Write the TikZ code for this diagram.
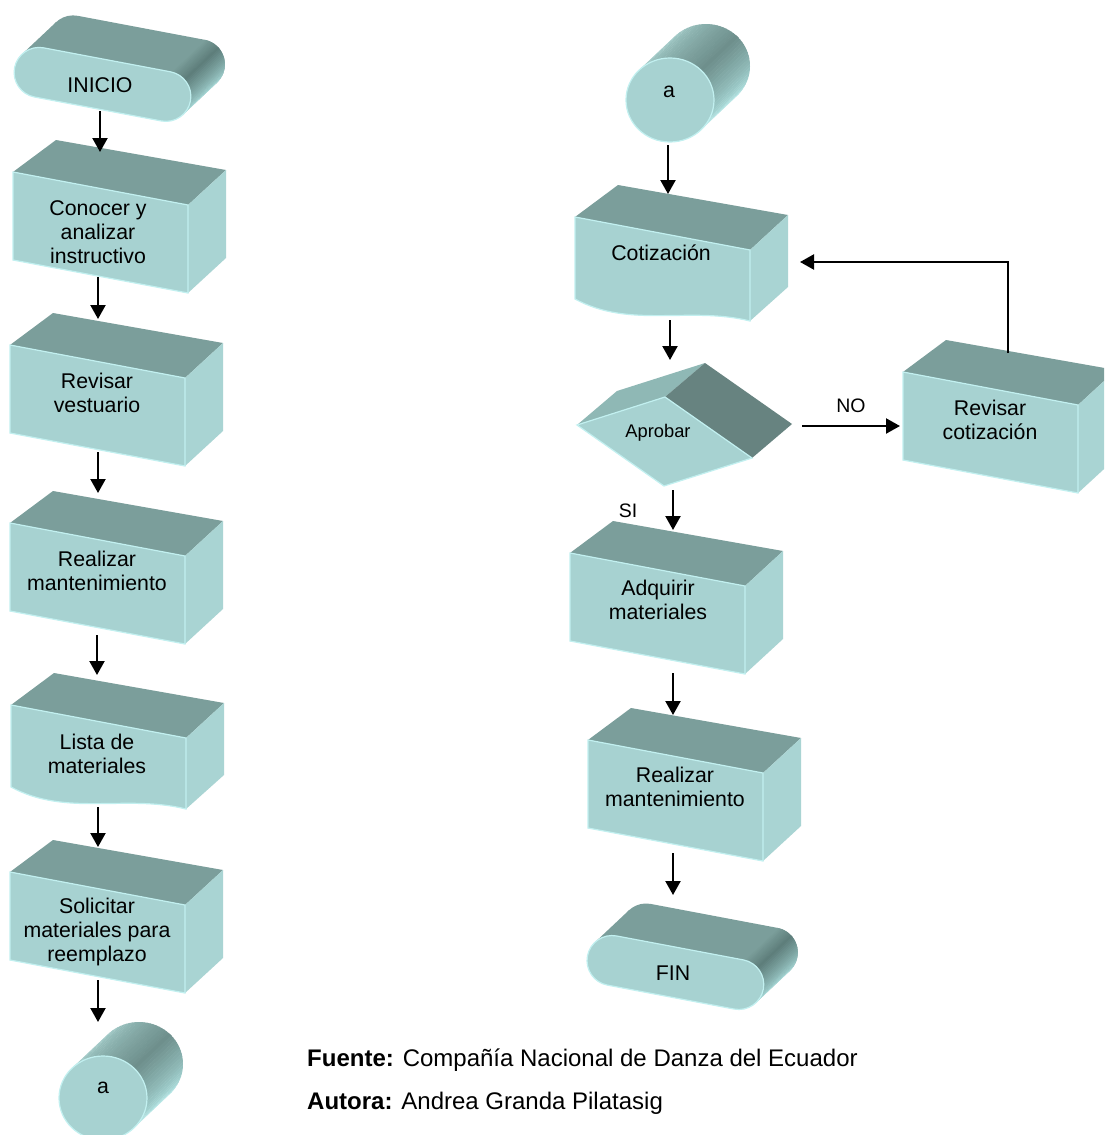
\documentclass[tikz,border=0pt]{standalone}
\usepackage{fontspec}
\setmainfont{Liberation Sans}
\usetikzlibrary{arrows.meta}

\definecolor{faceC}{HTML}{A7D2D1}
\definecolor{topC}{HTML}{7B9E9B}
\definecolor{sideC}{HTML}{A9D4D3}
\definecolor{edgeC}{HTML}{C2F0F0}
\definecolor{darkC}{HTML}{678380}
\definecolor{midC}{HTML}{8FB8B5}
\definecolor{capD}{HTML}{5E7E7B}
\definecolor{capL}{HTML}{B2E6E5}
\definecolor{cylL}{HTML}{A3CDCA}
\definecolor{cylD}{HTML}{6E8F8C}
\definecolor{cylE}{HTML}{B8EDEC}

\tikzset{
  arr/.style={line width=2.2pt, -{Triangle[length=14pt,width=15pt]}},
  lbl/.style={font=\fontsize{21.3}{24.3}\selectfont, align=center, inner sep=0pt},
  smalllbl/.style={font=\fontsize{18.3}{21}\selectfont, inner sep=0pt},
  ynlbl/.style={font=\fontsize{19.5}{22}\selectfont, inner sep=0pt},
  notelbl/.style={anchor=base west, inner sep=0pt, font=\fontsize{24}{27}\selectfont},
  frontface/.style={fill=faceC, draw=edgeC, line width=1.2pt},
  % process box: origin at the front top-left corner
  procbox/.pic={
    \fill[topC] (0,0) -- (43,-32) -- (213,-2) -- (175,33) -- cycle;
    \fill[sideC] (175,33) -- (213,-2) -- (213,86) -- (175,121) -- cycle;
    \path[frontface] (0,0) -- (175,33) -- (175,121) -- (0,88) -- cycle;
  },
  % document box with a wavy lower edge
  docbox/.pic={
    \fill[topC] (0,0) -- (43,-32) -- (213,-2) -- (175,33) -- cycle;
    \fill[sideC] (175,33) -- (213,-2) -- (213,70) -- (175,104) -- cycle;
    \path[frontface] (0,0) -- (175,33) -- (175,104)
      .. controls (115,89) and (55,112) .. (0,82) -- cycle;
  },
  % decision solid: origin at the left vertex of the front face
  decision/.pic={
    \fill[midC] (0,0) -- (88,-28) -- (128,-62) -- (40,-34) -- cycle;
    \fill[darkC] (88,-28) -- (128,-62) -- (215,-1) -- (175,33) -- cycle;
    \path[frontface] (0,0) -- (88,-28) -- (175,33) -- (87,61) -- cycle;
  },
  % rounded terminal slab: origin at the centre of the front face
  terminal/.pic={
    \begin{scope}[rotate=-10.7]
      \fill[topC] (-37,-62.8) -- (92,-62.8) arc[start angle=-90,end angle=90,radius=25]
        -- (-37,-12.8) arc[start angle=90,end angle=270,radius=25] -- cycle;
      \fill[topC] (-84.7,-14.7) -- (84.7,14.7) -- (112.2,-23.1) -- (-57.2,-52.5) -- cycle;
      \foreach \a in {-90,-86,...,-54}{
        \pgfmathtruncatemacro\p{(\a+90)/36*100}
        \pgfmathsetmacro\b{\a+4.6}
        \fill[capD!\p!topC] ([shift={(64.5,0)}]\a:25) arc[start angle=\a,end angle=\b,radius=25]
          -- ++(27.5,-37.8) arc[start angle=\b,end angle=\a,radius=25] -- cycle;
      }
      \foreach \a in {-54,-50,...,34}{
        \pgfmathtruncatemacro\p{(\a+54)/90*100}
        \pgfmathsetmacro\b{min(\a+4.6,36)}
        \fill[capL!\p!capD] ([shift={(64.5,0)}]\a:25) arc[start angle=\a,end angle=\b,radius=25]
          -- ++(27.5,-37.8) arc[start angle=\b,end angle=\a,radius=25] -- cycle;
      }
      \path[frontface] (-64.5,-25) -- (64.5,-25) arc[start angle=-90,end angle=90,radius=25]
        -- (-64.5,25) arc[start angle=90,end angle=270,radius=25] -- cycle;
    \end{scope}
  },
  % off-page connector cylinder: origin at the centre of the front disc
  connector/.pic={
    \foreach \a in {225,229,...,313}{
      \pgfmathtruncatemacro\p{(\a-225)/88*100}
      \pgfmathsetmacro\b{\a+4.6}
      \fill[cylD!\p!cylL] (\a:44 and 42) arc[start angle=\a,end angle=\b,x radius=44,y radius=42]
        -- ++(36,-34) arc[start angle=\b,end angle=\a,x radius=44,y radius=42] -- cycle;
    }
    \foreach \a in {313,317,...,401}{
      \pgfmathtruncatemacro\p{(\a-313)/92*100}
      \pgfmathsetmacro\b{min(\a+4.6,405.3)}
      \fill[cylE!\p!cylD] (\a:44 and 42) arc[start angle=\a,end angle=\b,x radius=44,y radius=42]
        -- ++(36,-34) arc[start angle=\b,end angle=\a,x radius=44,y radius=42] -- cycle;
    }
    \path[frontface] (0,0) ellipse [x radius=44, y radius=42];
  },
}

\begin{document}
\begin{tikzpicture}[x=1pt,y=-1pt]
\useasboundingbox (0,0) rectangle (1104,1135);
\fill[white] (0,0) rectangle (1104,1135);
\clip (0,0) rectangle (1104,1135);

% ---------- left column ----------
\pic at (102.5,84.4) {terminal};
\node[lbl] (inicio) at (100,85) {INICIO};

\pic at (13,172) {procbox};
\node[lbl] (conocer) at (98,232) {Conocer y\\analizar\\instructivo};

\pic at (10,345) {procbox};
\node[lbl] (revisar) at (97,393) {Revisar\\vestuario};

\pic at (10,523) {procbox};
\node[lbl] (realizarA) at (97,571) {Realizar\\mantenimiento};

\pic at (11,705) {docbox};
\node[lbl] (lista) at (97,754) {Lista de\\materiales};

\pic at (10,872) {procbox};
\node[lbl] (solicitar) at (97,932) {Solicitar\\materiales para\\reemplazo};

\pic at (103,1098) {connector};
\node[lbl] (conA) at (103,1088) {a};

% ---------- right column ----------
\pic at (670,100) {connector};
\node[lbl] (conB) at (669,92) {a};

\pic at (575,217) {docbox};
\node[lbl] (cotizacion) at (661,253) {Cotización};

\pic at (577,425) {decision};
\node[smalllbl] (aprobar) at (658,433) {Aprobar};

\pic at (903,372) {procbox};
\node[lbl] (revcot) at (990,420) {Revisar\\cotización};

\pic at (570,553) {procbox};
\node[lbl] (adquirir) at (658,600) {Adquirir\\materiales};

\pic at (588,740) {procbox};
\node[lbl] (realizarB) at (675,787) {Realizar\\mantenimiento};

\pic at (675.4,972.5) {terminal};
\node[lbl] (fin) at (673,973) {FIN};

% ---------- connection ports ----------
\coordinate (inicio-out) at (100,111);
\coordinate (conocer-in) at (100,152);
\coordinate (conocer-out) at (98,277);
\coordinate (revisar-in) at (98,319);
\coordinate (revisar-out) at (98,452);
\coordinate (realizarA-in) at (98,493);
\coordinate (realizarA-out) at (97,635);
\coordinate (lista-in) at (97,675);
\coordinate (lista-out) at (98,807);
\coordinate (solicitar-in) at (98,847);
\coordinate (solicitar-out) at (98,980);
\coordinate (conA-in) at (98,1022);

\coordinate (conB-out) at (668,145);
\coordinate (cotizacion-in) at (668,194);
\coordinate (cotizacion-out) at (670,320);
\coordinate (cotizacion-ret) at (800,262);
\coordinate (aprobar-in) at (670,360);
\coordinate (aprobar-no) at (802,426);
\coordinate (aprobar-si) at (673,490);
\coordinate (revcot-in) at (900,426);
\coordinate (revcot-out) at (1008,353);
\coordinate (adquirir-in) at (673,530);
\coordinate (adquirir-out) at (673,673);
\coordinate (realizarB-in) at (673,715);
\coordinate (realizarB-out) at (673,853);
\coordinate (fin-in) at (673,895);

% ---------- connectors ----------
\draw[arr] (inicio-out) -- (conocer-in);
\draw[arr] (conocer-out) -- (revisar-in);
\draw[arr] (revisar-out) -- (realizarA-in);
\draw[arr] (realizarA-out) -- (lista-in);
\draw[arr] (lista-out) -- (solicitar-in);
\draw[arr] (solicitar-out) -- (conA-in);

\draw[arr] (conB-out) -- (cotizacion-in);
\draw[arr] (cotizacion-out) -- (aprobar-in);
\draw[arr] (aprobar-no) -- (revcot-in);
\draw[arr] (revcot-out) |- (cotizacion-ret);
\draw[arr] (aprobar-si) -- (adquirir-in);
\draw[arr] (adquirir-out) -- (realizarB-in);
\draw[arr] (realizarB-out) -- (fin-in);

\node[ynlbl] (no) at (851,406) {NO};
\node[ynlbl] (si) at (628,511) {SI};

% ---------- source note ----------
\node[notelbl] (fuente) at (307,1066)
  {\textbf{Fuente:} Compañía Nacional de Danza del Ecuador};
\node[notelbl] (autora) at (307,1109)
  {\textbf{Autora:} Andrea Granda Pilatasig};
\end{tikzpicture}
\end{document}
